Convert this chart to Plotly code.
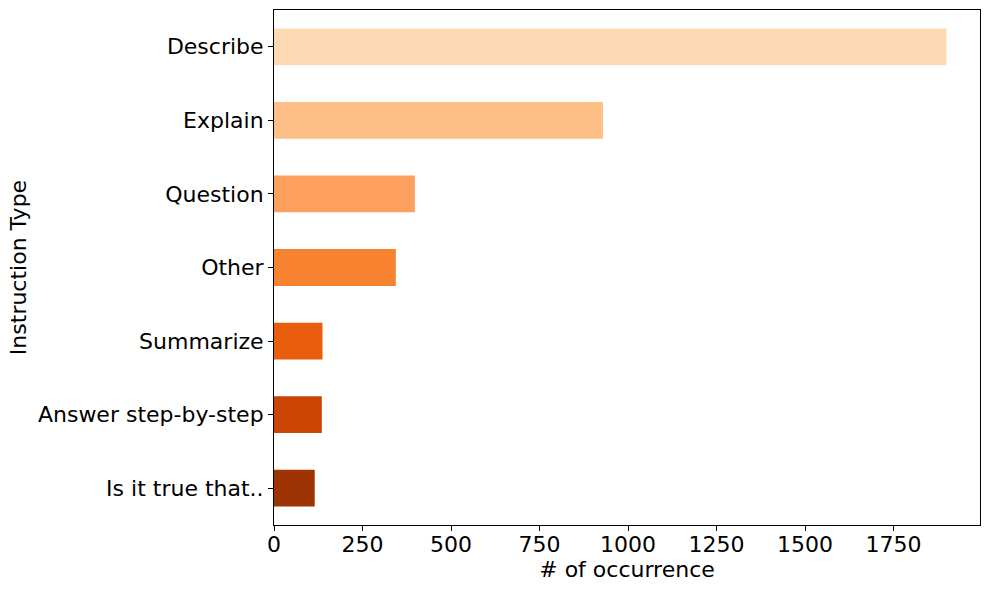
import plotly.graph_objects as go

categories = ["Is it true that..", "Answer step-by-step", "Summarize", "Other", "Question", "Explain", "Describe"]
counts = [115, 135, 137, 344, 398, 929, 1899]
colors = ["#9e3303", "#cb4402", "#e95e0d", "#f7822f", "#fda05e", "#fdbf86", "#fdd9b4"]
x_ticks = [0, 250, 500, 750, 1000, 1250, 1500, 1750]

font = "DejaVu Sans"
fs = 22

fig = go.Figure(go.Bar(
    y=list(range(len(categories))),
    x=counts,
    orientation="h",
    width=0.5,
    marker=dict(color=colors, line=dict(width=0)),
))

fig.update_layout(
    width=989, height=590,
    margin=dict(l=274, r=9, t=10, b=65, autoexpand=False),
    plot_bgcolor="white", paper_bgcolor="white",
    showlegend=False,
    font=dict(family=font, size=fs, color="black"),
)
fig.update_xaxes(
    range=[0, max(counts) * 1.05],
    tickvals=x_ticks,
    ticktext=[str(v) for v in x_ticks],
    showgrid=False, zeroline=False,
    showline=True, linecolor="black", linewidth=1, mirror=True,
    ticks="outside", ticklen=5, tickcolor="black",
    tickfont=dict(size=fs),
    ticklabelstandoff=-5,
    title=dict(text="# of occurrence", font=dict(size=fs), standoff=0),
    automargin=False,
)
fig.update_yaxes(
    range=[-0.5, len(categories) - 0.5],
    tickvals=list(range(len(categories))),
    ticktext=categories,
    showgrid=False, zeroline=False,
    showline=True, linecolor="black", linewidth=1, mirror=True,
    ticks="outside", ticklen=5, tickcolor="black",
    tickfont=dict(size=fs),
    title=dict(text="Instruction Type", font=dict(size=fs), standoff=5),
    automargin=False,
)

fig.write_html("out.html", config={"displayModeBar": False},
               post_script="document.body.style.margin='0';")
